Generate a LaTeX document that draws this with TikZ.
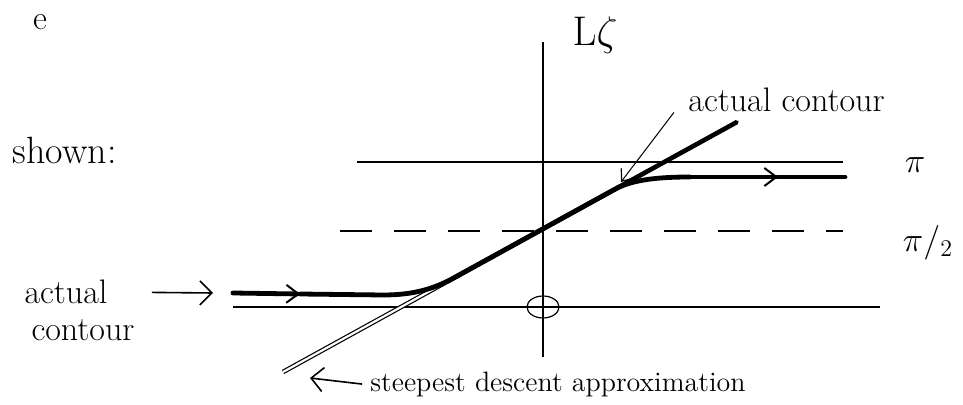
\documentclass[tikz,border=0pt]{standalone}
\usepackage{amsmath}
\usepackage{tikz}
\usetikzlibrary{arrows.meta,positioning,calc}
\tikzset{
  axisline/.style={line width=0.6pt},
  halfline/.style={line width=0.6pt, dash pattern=on 16pt off 11pt},
  contourline/.style={line width=2.4pt, line cap=round},
  approxline/.style={double, double distance=1.1pt, line width=0.6pt},
  barb/.style={-{Straight Barb[length=6pt,width=12pt,line width=0.8pt]}, line width=0.8pt},
  leader/.style={-{Straight Barb[length=5pt,width=8pt,line width=0.6pt]}, line width=0.5pt},
  midbarb/.style={-{Straight Barb[length=6pt,width=9pt,line width=1pt]}},
  note/.style={inner sep=0pt, font=\fontsize{17}{20}\selectfont}
}
\begin{document}
\begin{tikzpicture}[x=0.5pt, y=-0.5pt]
\useasboundingbox (0,0) rectangle (963,405);
% axes and levels
\coordinate (O) at (543,307);
\coordinate (imtop) at (543,42);
\coordinate (imbot) at (543,357);
\coordinate (reL) at (233,307);
\coordinate (reR) at (880,307);
\coordinate (piL) at (357,162);
\coordinate (piR) at (843,162);
\coordinate (hpL) at (340,231);
\coordinate (hpR) at (843,231);
\draw[axisline] (imtop) -- (imbot);
\draw[axisline] (reL) -- (reR);
\draw[axisline] (piL) -- (piR);
\draw[halfline] (hpL) -- (hpR);
\draw[axisline] (O) ellipse [x radius=16, y radius=11];
% steepest descent line
\coordinate (sdA) at (283,372);
\coordinate (sdB) at (737,122);
\draw[approxline] (sdA) -- (sdB);
% actual contour
\coordinate (cA) at (233,293);
\coordinate (cArr) at (300,294);
\coordinate (cB) at (383,295);
\coordinate (cC) at (455,277.3);
\coordinate (cD) at (615,189.2);
\coordinate (cE) at (690,177);
\coordinate (cArr2) at (778,177);
\coordinate (cF) at (845,177);
\draw[contourline, midbarb] (cA) -- (cArr);
\draw[contourline] (cArr) -- (cB) .. controls (415,295) and (435,288.3) .. (cC)
  -- (cD) .. controls (633,179.3) and (660,177) .. (cE);
\draw[contourline, midbarb] (cE) -- (cArr2);
\draw[contourline] (cArr2) -- (cF);
\draw[contourline, line width=1.8pt] (cD) -- (sdB);
% labels
\node[note] (lezeta) at (40,22) {e};
\node[note, anchor=east, font=\fontsize{19}{22}\selectfont] (shown) at (117,150) {shown:};
\node[note, font=\fontsize{22}{24}\selectfont] (axlbl) at (595,35) {$\mathrm{L}\zeta$};
\node[note] (pilbl) at (915,165) {$\pi$};
\node[note] (hplbl) at (928,243) {$\pi/_{2}$};
\node[note] (lact1) at (66,292) {actual};
\node[note] (lact2) at (83,330) {contour};
\coordinate (cInTip) at (213,293);
\draw[barb, shorten <=22pt] (lact1.east) -- (cInTip);
\node[note, anchor=west, inner xsep=7pt] (tact) at (674,100) {actual contour};
\coordinate (tTip) at (621,182);
\draw[leader] (tact.south west) -- (tTip);
\node[note, anchor=west, font=\fontsize{14}{16}\selectfont] (sdlbl) at (370,385) {steepest descent approximation};
\coordinate (sdTip) at (310,378);
\draw[barb, shorten <=4pt] (sdlbl.west) -- (sdTip);
\end{tikzpicture}
\end{document}
